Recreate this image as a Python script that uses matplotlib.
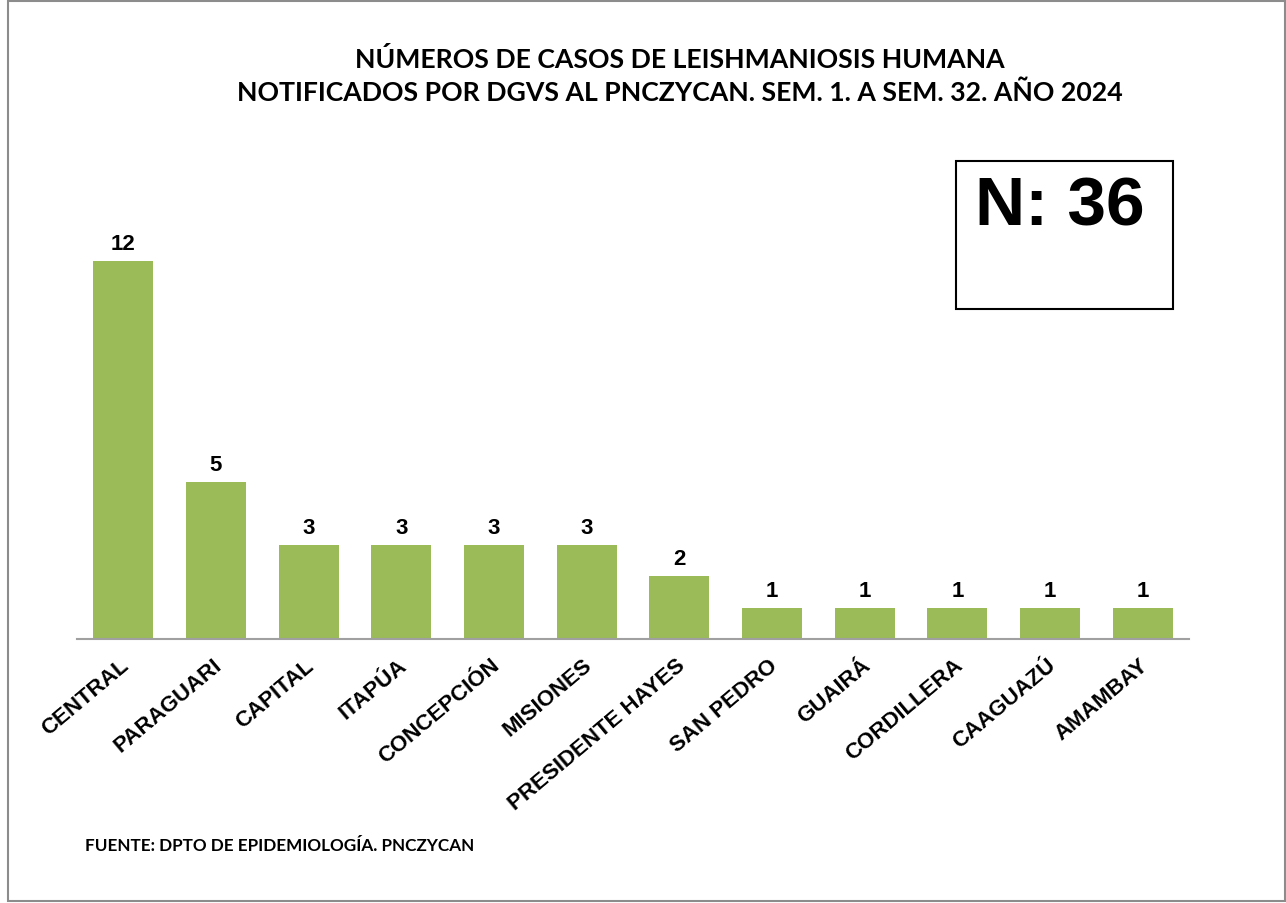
import numpy as np
import matplotlib.pyplot as plt
from matplotlib.patches import Rectangle
from matplotlib.transforms import ScaledTranslation

departamentos = ["CENTRAL", "PARAGUARI", "CAPITAL", "ITAPÚA", "CONCEPCIÓN", "MISIONES",
                 "PRESIDENTE HAYES", "SAN PEDRO", "GUAIRÁ", "CORDILLERA", "CAAGUAZÚ", "AMAMBAY"]
casos = [12, 5, 3, 3, 3, 3, 2, 1, 1, 1, 1, 1]
total = 36

titulo = "NÚMEROS DE CASOS DE LEISHMANIOSIS HUMANA\nNOTIFICADOS POR DGVS AL PNCZYCAN. SEM. 1. A SEM. 32. AÑO 2024"
fuente = "FUENTE: DPTO DE EPIDEMIOLOGÍA. PNCZYCAN"

W, H = 1286, 904
fig = plt.figure(figsize=(W / 100, H / 100), dpi=100)

# marco exterior
fig.patches.append(Rectangle((8 / W, 2 / H), 1277 / W, 900 / H, transform=fig.transFigure,
                             fill=False, edgecolor="#8c8c8c", linewidth=1.5))

ax = fig.add_axes([77 / W, 1 - 640 / H, (1189 - 77) / W, (640 - 150) / H])
x = np.arange(len(departamentos))
bars = ax.bar(x, casos, width=0.65, color="#9BBB59")
ax.set_xlim(-0.5, len(departamentos) - 0.5)
ax.set_ylim(0, (640 - 150) / 31.5)

for b, v in zip(bars, casos):
    ax.annotate(str(v), (b.get_x() + b.get_width() / 2, v), xytext=(0, 5),
                textcoords="offset points", ha="center", va="bottom",
                fontsize=16, fontweight="bold", family="Liberation Sans")

ax.set_xticks(x)
ax.set_xticklabels(departamentos, rotation=40, ha="right", rotation_mode="anchor",
                   fontsize=16, fontweight="bold", family="Liberation Sans")
ax.tick_params(axis="x", length=0, pad=11)
# desplazar un poco las etiquetas a la izquierda
shift = ScaledTranslation(-4 / 100, 0, fig.dpi_scale_trans)
for lbl in ax.get_xticklabels():
    lbl.set_transform(lbl.get_transform() + shift)
ax.set_yticks([])
for s in ["top", "right", "left"]:
    ax.spines[s].set_visible(False)
ax.spines["bottom"].set_color("#a0a0a0")
ax.spines["bottom"].set_linewidth(1.5)

fig.text(680 / W, 1 - 76 / H, titulo, ha="center", va="center", fontsize=19.2,
         fontweight="bold", family="Lato", linespacing=1.45)

# recuadro N
fig.patches.append(Rectangle((956 / W, 1 - 310 / H), 217 / W, 148 / H, transform=fig.transFigure,
                             fill=False, edgecolor="black", linewidth=1.5))
fig.text(1060 / W, 1 - 208 / H, f"N: {total}", ha="center", va="center", fontsize=50,
         fontweight="bold", family="Liberation Sans")

fig.text(85 / W, 1 - 846 / H, fuente, ha="left", va="center", fontsize=12.3,
         fontweight="bold", family="Lato")

fig.savefig("out.png", dpi=100)
